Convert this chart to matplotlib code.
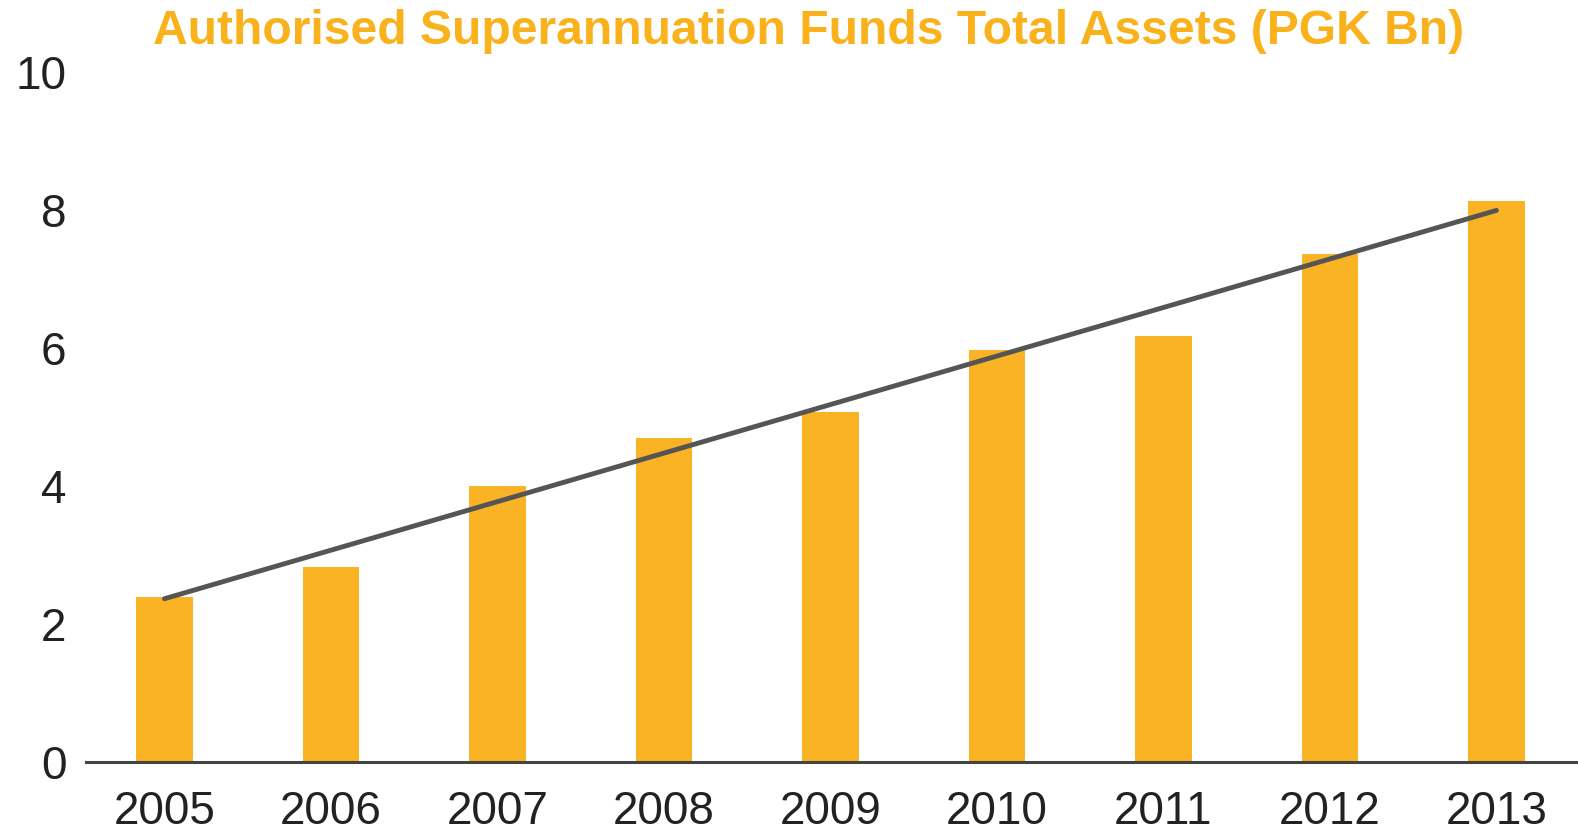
import matplotlib
matplotlib.use("Agg")
import matplotlib.pyplot as plt
import numpy as np

# data
years = ["2005", "2006", "2007", "2008", "2009", "2010", "2011", "2012", "2013"]
assets = [2.39, 2.82, 4.00, 4.70, 5.07, 5.97, 6.18, 7.36, 8.13]
yticks = [0, 2, 4, 6, 8, 10]

bar_color = "#FBB326"
title_color = "#F9B21B"

fig = plt.figure(figsize=(15.78, 8.33), dpi=100)
ax = fig.add_axes([86 / 1578, 71 / 833, 1 - 86 / 1578, (762 - 72) / 833])

x = np.arange(len(years))
ax.bar(x, assets, width=0.34, color=bar_color, zorder=2)

# linear trend line over the bars
coef = np.polyfit(x, assets, 1)
ax.plot([x[0], x[-1]], np.polyval(coef, [x[0], x[-1]]), color="#555555",
        linewidth=3.5, solid_capstyle="round", zorder=3, clip_on=False)

ax.set_xlim(-0.471, 8.49)
ax.set_ylim(0, 10)
ax.set_xticks(x)
ax.set_xticklabels(years)
ax.set_yticks(yticks)
ax.set_yticklabels([str(v) for v in yticks])

for s in ["top", "right", "left"]:
    ax.spines[s].set_visible(False)
ax.spines["bottom"].set_color("#444444")
ax.spines["bottom"].set_linewidth(2.2)
ax.spines["bottom"].set_zorder(4)

ax.tick_params(axis="both", length=0, labelsize=33, labelcolor="#222222")
ax.tick_params(axis="x", pad=20)
ax.tick_params(axis="y", pad=14)
for lab in ax.get_xticklabels() + ax.get_yticklabels():
    lab.set_fontfamily("Liberation Sans")

fig.text(809 / 1578, 1 - 31 / 833, "Authorised Superannuation Funds Total Assets (PGK Bn)",
         ha="center", va="center", fontsize=34.6, fontweight="bold",
         color=title_color, family="Liberation Sans")

fig.savefig("out.png", dpi=100, facecolor="white")
